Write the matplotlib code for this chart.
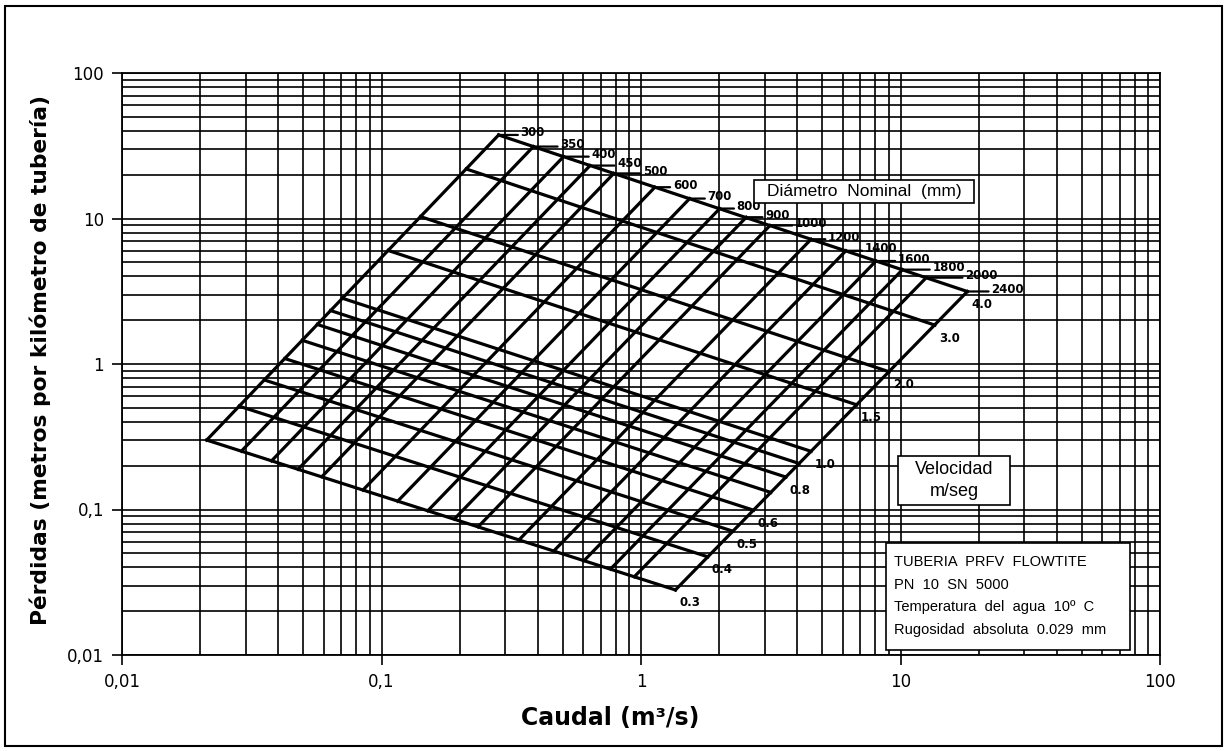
import numpy as np
import matplotlib
matplotlib.use("Agg")
import matplotlib.pyplot as plt
from matplotlib.patches import Rectangle

diametros = [300, 350, 400, 450, 500, 600, 700, 800, 900, 1000, 1200, 1400, 1600, 1800, 2000, 2400]
perd_d_v03 = [0.30, 0.252, 0.216, 0.189, 0.168, 0.136, 0.114, 0.098, 0.086, 0.076,
              0.062, 0.052, 0.0445, 0.039, 0.0345, 0.028]
perd_d_v40 = [37.5, 31.2, 26.6, 23.1, 20.4, 16.4, 13.7, 11.7, 10.2, 8.95,
              7.2, 6.0, 5.1, 4.45, 3.92, 3.15]

# velocidades (m/s), perdidas sobre D=300 y D=2400
velocidades = [0.3, 0.4, 0.5, 0.6, 0.7, 0.8, 0.9, 1.0, 1.5, 2.0, 3.0, 4.0]
vel_etiq = ["0.3", "0.4", "0.5", "0.6", "", "0.8", "", "1.0", "1.5", "2.0", "3.0", "4.0"]
perd_v_d300 = [0.30, 0.513, 0.777, 1.09, 1.455, 1.87, 2.33, 2.83, 6.03, 10.3, 21.9, 37.5]
perd_v_d2400 = [0.028, 0.0473, 0.0709, 0.0989, 0.131, 0.167, 0.207, 0.251, 0.524, 0.884, 1.85, 3.15]

decadas = [0.01, 0.1, 1, 10, 100]
etiq_decadas = ["0,01", "0,1", "1", "10", "100"]

notas = ["TUBERIA  PRFV  FLOWTITE", "PN  10  SN  5000",
         "Temperatura  del  agua  10º  C", "Rugosidad  absoluta  0.029  mm"]

# separacion (px) entre el extremo de cada linea de diametro y su rotulo
guion = [22, 27, 28, 27, 29, 18, 18, 17, 19, 25, 17, 19, 22, 30, 39, 24]


def caudal(d_mm, v):
    d = d_mm / 1000.0
    return v * np.pi * d ** 2 / 4.0


W, H = 1225, 751
fig = plt.figure(figsize=(W / 100, H / 100), dpi=100)
ax = fig.add_axes([122 / W, 1 - 655 / H, 1038 / W, 582 / H])
ax.set_xscale("log")
ax.set_yscale("log")
ax.set_xlim(0.01, 100)
ax.set_ylim(0.01, 100)
ax.set_xticks(decadas)
ax.set_xticklabels(etiq_decadas)
ax.set_yticks(decadas)
ax.set_yticklabels(etiq_decadas)
ax.grid(which="both", color="black", lw=1.2)
ax.tick_params(which="major", length=7, width=1.2, direction="out", labelsize=12, pad=6)
ax.tick_params(which="minor", length=0, labelleft=False, labelbottom=False)
for s in ax.spines.values():
    s.set_linewidth(1.3)

# lineas de diametro constante
for i, d in enumerate(diametros):
    q = [caudal(d, velocidades[0]), caudal(d, velocidades[-1])]
    ax.plot(q, [perd_d_v03[i], perd_d_v40[i]], color="black", lw=2.3, zorder=3)
    ax.annotate(str(d), xy=(q[1], perd_d_v40[i]), xytext=(guion[i], 2), textcoords="offset pixels",
                ha="left", va="center", fontsize=8.5, fontweight="bold", zorder=4,
                arrowprops=dict(arrowstyle="-", lw=1.6, shrinkA=0, shrinkB=0, relpos=(0, 0.35)))

# lineas de velocidad constante
for j, v in enumerate(velocidades):
    q = [caudal(diametros[0], v), caudal(diametros[-1], v)]
    ax.plot(q, [perd_v_d300[j], perd_v_d2400[j]], color="black", lw=2.3, zorder=3)
    if vel_etiq[j]:
        ax.annotate(vel_etiq[j], xy=(q[1], perd_v_d2400[j]), xytext=(4, -13),
                    textcoords="offset pixels", ha="left", va="center",
                    fontsize=8.5, fontweight="bold", zorder=4)

fig.text(40 / W, 1 - 360 / H, "Pérdidas (metros por kilómetro de tubería)", rotation=90,
         ha="center", va="center", fontsize=15.7, fontweight="bold")
fig.text(610 / W, 1 - 718 / H, "Caudal (m³/s)", ha="center", va="center",
         fontsize=17, fontweight="bold")

# cuadros de texto
def caja(x0, y0, x1, y1):
    fig.add_artist(Rectangle((x0 / W, 1 - y1 / H), (x1 - x0) / W, (y1 - y0) / H,
                             transform=fig.transFigure, facecolor="white",
                             edgecolor="black", lw=1.2, zorder=5))

caja(754, 180, 974, 203)
fig.text(864 / W, 1 - 191.5 / H, "Diámetro  Nominal  (mm)", ha="center", va="center",
         fontsize=12.5, family="Liberation Sans", zorder=6)

caja(898, 456, 1010, 505)
fig.text(954 / W, 1 - 469 / H, "Velocidad", ha="center", va="center",
         fontsize=13, family="Liberation Sans", zorder=6)
fig.text(954 / W, 1 - 492 / H, "m/seg", ha="center", va="center",
         fontsize=13, family="Liberation Sans", zorder=6)

caja(886, 543, 1130, 650)
for k, t in enumerate(notas):
    fig.text(894 / W, 1 - (562 + 22.7 * k) / H, t, ha="left", va="center",
             fontsize=10.5, family="Liberation Sans", zorder=6)

# marco exterior
fig.add_artist(Rectangle((5 / W, 1 - 746 / H), 1217 / W, 740 / H, transform=fig.transFigure,
                         facecolor="none", edgecolor="black", lw=1.5))

fig.savefig("out.png", dpi=100)
